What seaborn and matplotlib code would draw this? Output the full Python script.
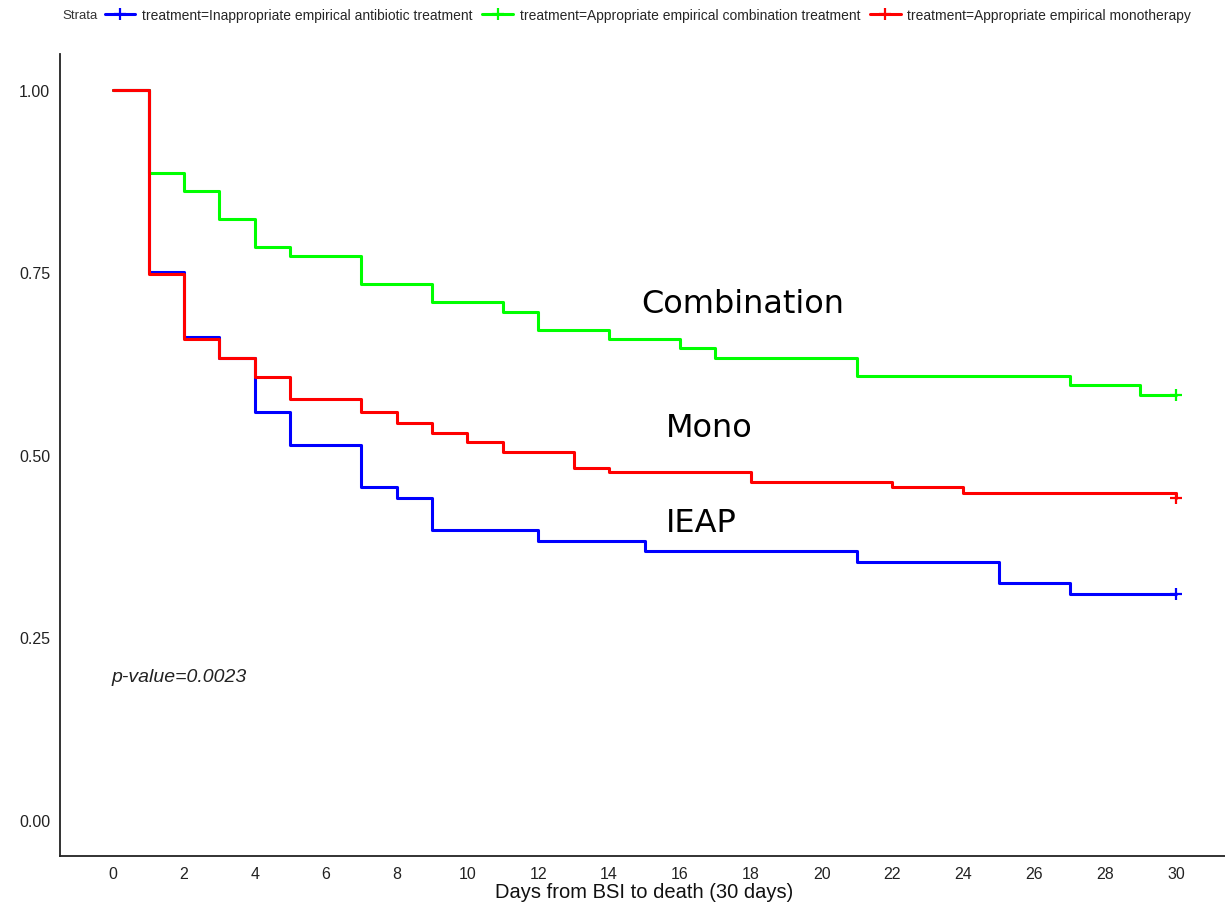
# Kaplan-Meier style survival curves, 30-day mortality by empirical treatment
import numpy as np
import pandas as pd
import seaborn as sns
import matplotlib.pyplot as plt
from matplotlib.lines import Line2D

# Step data (time in days, survival probability)
ieap_days = [0, 1, 2, 3, 4, 5, 7, 8, 9, 12, 15, 21, 25, 27, 30]
ieap_surv = [1.0, 0.750, 0.662, 0.632, 0.558, 0.514, 0.456, 0.441, 0.397,
             0.382, 0.368, 0.353, 0.324, 0.309, 0.309]

combo_days = [0, 1, 2, 3, 4, 5, 7, 9, 11, 12, 14, 16, 17, 21, 27, 29, 30]
combo_surv = [1.0, 0.886, 0.861, 0.823, 0.785, 0.772, 0.734, 0.709, 0.696,
              0.671, 0.658, 0.646, 0.633, 0.608, 0.595, 0.582, 0.582]

mono_days = [0, 1, 2, 3, 4, 5, 7, 8, 9, 10, 11, 13, 14, 18, 22, 24, 30]
mono_surv = [1.0, 0.748, 0.659, 0.632, 0.606, 0.577, 0.558, 0.543, 0.530,
             0.517, 0.504, 0.482, 0.476, 0.462, 0.456, 0.448, 0.441]

strata = ["treatment=Inappropriate empirical antibiotic treatment",
          "treatment=Appropriate empirical combination treatment",
          "treatment=Appropriate empirical monotherapy"]
colors = ["#0000FF", "#00FF00", "#FF0000"]
curve_labels = ["IEAP", "Combination", "Mono"]
label_pos = [(15.6, 0.407), (14.9, 0.707), (15.6, 0.538)]

x_ticks = list(range(0, 31, 2))
y_ticks = [0.0, 0.25, 0.5, 0.75, 1.0]

frames = []
for name, d, s in zip(strata, [ieap_days, combo_days, mono_days],
                      [ieap_surv, combo_surv, mono_surv]):
    frames.append(pd.DataFrame({"day": d, "surv": s, "strata": name}))
df = pd.concat(frames, ignore_index=True)

sns.set_style("white")
plt.rcParams["font.family"] = ["Liberation Sans", "DejaVu Sans"]

fig = plt.figure(figsize=(12.25, 9.04), dpi=100)
ax = fig.add_axes([60 / 1225, 1 - 857 / 904, (1229 - 60) / 1225, (857 - 54.5) / 904])

sns.lineplot(data=df, x="day", y="surv", hue="strata", hue_order=strata,
             palette=colors, drawstyle="steps-post", estimator=None,
             sort=False, linewidth=2.2, legend=False, ax=ax)

# censor marks at end of follow-up
last = df.groupby("strata", sort=False).tail(1)
for name, c in zip(strata, colors):
    row = last[last["strata"] == name]
    ax.plot(row["day"], row["surv"], marker="+", color=c, ms=9, mew=1.6,
            linestyle="none")

for txt, (x, y) in zip(curve_labels, label_pos):
    ax.text(x, y, txt, fontsize=23, family="DejaVu Sans", va="center",
            ha="left", color="black")

ax.text(-0.05, 0.196, "p-value=0.0023", fontsize=14, style="italic",
        va="center", ha="left", color="#222222")

ax.set_xlim(-1.5, 31.5)
ax.set_ylim(-0.05, 1.05)
ax.set_xticks(x_ticks)
ax.set_yticks(y_ticks)
ax.set_yticklabels([f"{v:.2f}" for v in y_ticks])
ax.set_xlabel("Days from BSI to death (30 days)", fontsize=14.5, labelpad=1,
              color="#111111")
ax.set_ylabel("")
ax.tick_params(axis="both", length=4, width=1, color="#333333",
               labelsize=11.5, labelcolor="#222222", pad=3)
sns.despine(ax=ax)
for sp in ["left", "bottom"]:
    ax.spines[sp].set_color("#222222")
    ax.spines[sp].set_linewidth(1.3)

handles = [Line2D([0], [0], color=c, lw=2.2, marker="+", ms=9, mew=1.6)
           for c in colors]
fig.text(62 / 1225, 1 - 16 / 904, "Strata", fontsize=9.5, va="center",
         color="#333333")
fig.legend(handles, strata, loc="upper left", bbox_to_anchor=(92 / 1225, 1.004),
           ncol=3, frameon=False, fontsize=10, handlelength=2.2,
           handletextpad=0.5, columnspacing=0.7)

fig.savefig("out.png", dpi=100)
